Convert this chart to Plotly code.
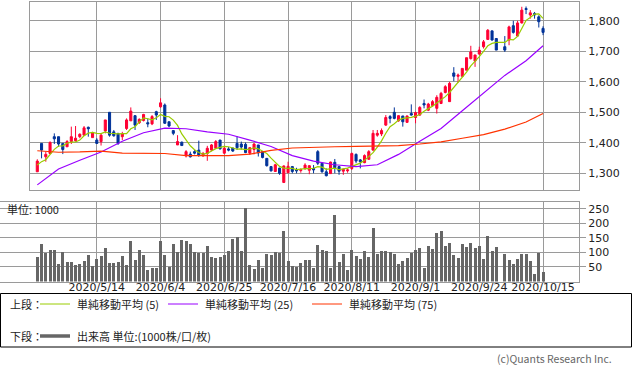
import plotly.graph_objects as go
import pandas as pd

# ---------------- data ----------------
tick_idx = [14, 29, 44, 59, 74, 89, 104, 119]
tick_labels = ["2020/5/14", "2020/6/4", "2020/6/25", "2020/7/16",
               "2020/8/11", "2020/9/1", "2020/9/24", "2020/10/15"]

opens = [1305, 1398, 1354, 1365, 1420, 1420, 1398, 1387, 1404, 1407,
         1420, 1425, 1451, 1417, 1409, 1404, 1439, 1500, 1436, 1431,
         1420, 1447, 1472, 1489, 1466, 1473, 1466, 1462, 1502, 1518,
         1524, 1469, 1440, 1393, 1402, 1357, 1363, 1371, 1376, 1357,
         1365, 1376, 1382, 1409, 1366, 1380, 1383, 1398, 1396, 1395,
         1366, 1378, 1393, 1371, 1349, 1322, 1306, 1317, 1270, 1302,
         1322, 1312, 1309, 1316, 1310, 1316, 1371, 1333, 1305, 1299,
         1336, 1322, 1307, 1308, 1316, 1362, 1344, 1335, 1346, 1376,
         1425, 1429, 1458, 1486, 1500, 1472, 1488, 1467, 1496, 1483,
         1491, 1529, 1507, 1522, 1513, 1529, 1565, 1535, 1629, 1618,
         1618, 1638, 1676, 1668, 1691, 1715, 1739, 1767, 1742, None,
         1715, 1737, 1784, 1750, 1793, 1840, 1819, 1824, 1813, 1775]
highs = [1346, 1398, 1371, 1405, 1431, 1420, 1398, 1409, 1453, 1455,
         1431, 1455, 1453, 1436, 1415, 1431, 1475, 1500, 1442, 1431,
         1436, 1480, 1516, 1491, 1480, 1495, 1480, 1491, 1505, 1546,
         1529, 1469, 1442, 1425, 1404, 1376, 1371, 1376, 1407, 1370,
         1390, 1396, 1409, 1409, 1390, 1386, 1383, 1422, 1404, 1401,
         1386, 1399, 1393, 1372, 1349, 1324, 1331, 1318, 1326, 1338,
         1324, 1318, 1316, 1333, 1327, 1327, 1376, 1336, 1316, 1338,
         1347, 1322, 1316, 1316, 1368, 1365, 1347, 1362, 1376, 1442,
         1442, 1447, 1491, 1491, 1516, 1491, 1488, 1489, 1526, 1502,
         1520, 1542, 1531, 1540, 1556, 1567, 1589, 1600, 1648, 1627,
         1644, 1679, 1718, 1688, 1715, 1737, 1773, 1767, 1742, None,
         1750, 1784, 1800, 1800, 1846, 1847, 1835, 1829, 1818, 1782]
lows = [1305, 1349, 1338, 1365, 1396, 1387, 1363, 1387, 1396, 1404,
        1415, 1425, 1420, 1417, 1396, 1391, 1431, 1420, 1420, 1393,
        1409, 1442, 1472, 1442, 1462, 1470, 1451, 1458, 1475, 1515,
        1462, 1451, 1425, 1393, 1391, 1352, 1352, 1362, 1354, 1355,
        1341, 1372, 1380, 1378, 1363, 1372, 1370, 1377, 1378, 1366,
        1360, 1362, 1355, 1349, 1322, 1306, 1305, 1295, 1268, 1300,
        1300, 1300, 1302, 1311, 1297, 1300, 1327, 1302, 1290, 1298,
        1300, 1295, 1295, 1302, 1311, 1333, 1316, 1333, 1344, 1374,
        1420, 1422, 1455, 1464, 1477, 1469, 1453, 1465, 1489, 1464,
        1488, 1513, 1504, 1518, 1496, 1527, 1562, 1535, 1602, 1597,
        1616, 1638, 1673, 1649, 1689, 1709, 1737, 1735, 1704, None,
        1698, 1720, 1758, 1748, 1791, 1822, 1807, 1807, 1778, 1753]
closes = [1340, 1376, 1362, 1401, 1413, 1396, 1378, 1404, 1420, 1415,
          1428, 1449, 1446, 1433, 1398, 1425, 1475, 1425, 1423, 1398,
          1429, 1475, 1504, 1458, 1477, 1493, 1462, 1486, 1491, 1531,
          1464, 1455, 1431, 1404, 1391, 1371, 1354, 1366, 1360, 1365,
          1382, 1393, 1404, 1380, 1382, 1376, 1373, 1384, 1386, 1368,
          1384, 1396, 1367, 1352, 1325, 1308, 1328, 1300, 1324, 1323,
          1306, 1308, 1312, 1327, 1325, 1311, 1333, 1305, 1292, 1337,
          1318, 1307, 1313, 1311, 1365, 1340, 1338, 1358, 1371, 1431,
          1431, 1440, 1483, 1480, 1480, 1489, 1469, 1488, 1491, 1499,
          1516, 1524, 1527, 1535, 1549, 1562, 1584, 1595, 1618, 1622,
          1644, 1679, 1698, 1688, 1704, 1731, 1769, 1737, 1704, None,
          1704, 1780, 1762, 1793, 1835, 1837, 1826, 1819, 1797, 1762]
pre_closes = [1320, 1330, 1315, 1330]   # closes before the window (for the 5-day MA)

volumes = [86, 132, 99, 111, 111, 61, 104, 68, 68, 57,
           61, 71, 93, 54, 79, 89, 118, 64, 64, 68,
           89, 57, 139, 75, 111, 93, 39, 46, 46, 139,
           93, 50, 129, 104, 143, 139, 132, 104, 99, 99,
           125, 86, 82, 86, 93, 107, 146, 154, 107, 255,
           57, 43, 75, 48, 96, 93, 104, 100, 175, 71,
           54, 50, 64, 74, 74, 49, 127, 109, 106, 49,
           229, 67, 95, 42, 109, 88, 78, 106, 85, 187,
           95, 106, 106, 102, 95, 60, 71, 81, 99, 109,
           116, 49, 124, 113, 169, 176, 124, 134, 92, 81,
           131, 120, 134, 116, 124, 78, 159, 106, 120, None,
           95, 74, 60, 78, 95, 95, 71, 28, 99, 35]

ma_idx = [0, 5, 10, 15, 20, 25, 30, 35, 40, 45, 50, 55, 60, 65, 70, 75,
          80, 85, 90, 95, 100, 105, 110, 115, 119]
ma25 = [1262, 1314, 1343, 1370, 1405, 1433, 1448, 1446, 1436, 1428, 1409,
        1388, 1358, 1340, 1328, 1322, 1328, 1362, 1405, 1447, 1505, 1564,
        1621, 1669, 1718]
ma75 = [1374, 1369, 1370, 1373, 1366, 1365, 1365, 1358, 1357, 1358, 1363,
        1375, 1383, 1386, 1387, 1388, 1389, 1391, 1396, 1403, 1415, 1427,
        1445, 1468, 1496]

# ---------------- derived ----------------
idx = list(range(len(closes)))
valid = [i for i in idx if closes[i] is not None]
cs = pd.Series(pre_closes + [closes[i] for i in valid])
ma5_vals = cs.rolling(5).mean().iloc[len(pre_closes):].tolist()

W, H = 633, 375
def px_x(p): return p / W
def px_y(p): return 1 - p / H

RED, BLUE = "#ff0033", "#003399"
C5, C25, C75 = "#99cc00", "#9900ff", "#ff3300"
GRID = "#9a9a9a"
TXT = "#222222"

fig = go.Figure()
fig.add_trace(go.Candlestick(
    x=valid,
    open=[opens[i] for i in valid], high=[highs[i] for i in valid],
    low=[lows[i] for i in valid], close=[closes[i] for i in valid],
    increasing=dict(line=dict(color=RED, width=1), fillcolor=RED),
    decreasing=dict(line=dict(color=BLUE, width=1), fillcolor=BLUE),
    whiskerwidth=0, xaxis="x", yaxis="y", showlegend=False, hoverinfo="skip"))
fig.add_trace(go.Scatter(x=valid, y=ma5_vals, mode="lines",
                         line=dict(color=C5, width=1.2), xaxis="x", yaxis="y",
                         showlegend=False, hoverinfo="skip"))
fig.add_trace(go.Scatter(x=ma_idx, y=ma25, mode="lines",
                         line=dict(color=C25, width=1.2), xaxis="x", yaxis="y",
                         showlegend=False, hoverinfo="skip"))
fig.add_trace(go.Scatter(x=ma_idx, y=ma75, mode="lines",
                         line=dict(color=C75, width=1.2), xaxis="x", yaxis="y",
                         showlegend=False, hoverinfo="skip"))
fig.add_trace(go.Bar(x=valid, y=[volumes[i] for i in valid], width=0.72,
                     marker=dict(color="#666666", line=dict(width=0)),
                     xaxis="x2", yaxis="y2", showlegend=False, hoverinfo="skip"))

x_right = (579 - 37.3) / 4.25
axis_common = dict(showgrid=True, gridcolor=GRID, gridwidth=1, zeroline=False,
                   showline=True, linecolor=GRID, linewidth=1, mirror=True,
                   fixedrange=True, automargin=False)
fig.update_layout(
    width=W, height=H, margin=dict(l=0, r=0, t=0, b=0, pad=0), autosize=False,
    paper_bgcolor="white", plot_bgcolor="white",
    font=dict(family="DejaVu Sans", size=11, color=TXT),
    xaxis=dict(domain=[px_x(30), px_x(579)], range=[(30 - 37.3) / 4.25, x_right],
               tickvals=tick_idx, showticklabels=False, ticks="",
               rangeslider=dict(visible=False), anchor="y", **axis_common),
    yaxis=dict(domain=[px_y(190), px_y(2)],
               range=[1800 - (190 - 20.8) / 0.305, 1800 - (2 - 20.8) / 0.305],
               tickvals=[1300, 1400, 1500, 1600, 1700, 1800], tickformat=",d",
               side="right", ticks="outside", ticklen=6, tickcolor=GRID,
               anchor="x", **axis_common),
    xaxis2=dict(domain=[0, px_x(579)], range=[(0 - 37.3) / 4.25, x_right],
                tickvals=tick_idx, ticktext=tick_labels, ticks="",
                ticklabelstandoff=-5,
                anchor="y2", **axis_common),
    yaxis2=dict(domain=[px_y(281.5), px_y(201.7)], range=[0, 275],
                tickvals=[50, 100, 150, 200, 250], side="right",
                ticks="outside", ticklen=6, tickcolor=GRID,
                anchor="x2", **axis_common),
    bargap=0,
)

JP = "Noto Sans CJK JP"
ann = []
ann.append(dict(x=px_x(5), y=px_y(209), xref="paper", yref="paper", text="単位: 1000",
                showarrow=False, xanchor="left", yanchor="middle",
                font=dict(family=JP, size=11, color=TXT)))
shapes = [dict(type="rect", xref="paper", yref="paper", x0=px_x(0.5), x1=px_x(631.5),
               y0=px_y(347), y1=px_y(293.5), line=dict(color="#000000", width=1))]
row1, row2 = 304, 336
ann.append(dict(x=px_x(8), y=px_y(row1), xref="paper", yref="paper", text="上段：",
                showarrow=False, xanchor="left", yanchor="middle",
                font=dict(family=JP, size=11, color=TXT)))
ann.append(dict(x=px_x(8), y=px_y(row2), xref="paper", yref="paper", text="下段：",
                showarrow=False, xanchor="left", yanchor="middle",
                font=dict(family=JP, size=11, color=TXT)))
for x0, col, label in [(40, C5, "単純移動平均 (5)"), (168, C25, "単純移動平均 (25)"),
                       (312, C75, "単純移動平均 (75)")]:
    shapes.append(dict(type="line", xref="paper", yref="paper", x0=px_x(x0), x1=px_x(x0 + 30),
                       y0=px_y(row1), y1=px_y(row1), line=dict(color=col, width=1)))
    ann.append(dict(x=px_x(x0 + 35), y=px_y(row1), xref="paper", yref="paper", text=label,
                    showarrow=False, xanchor="left", yanchor="middle",
                    font=dict(family=JP, size=11, color=TXT)))
shapes.append(dict(type="line", xref="paper", yref="paper", x0=px_x(40), x1=px_x(70),
                   y0=px_y(row2), y1=px_y(row2), line=dict(color="#666666", width=3.5)))
ann.append(dict(x=px_x(75), y=px_y(row2), xref="paper", yref="paper",
                text="出来高 単位:(1000株/口/枚)", showarrow=False, xanchor="left",
                yanchor="middle", font=dict(family=JP, size=11, color=TXT)))
ann.append(dict(x=px_x(614), y=px_y(358), xref="paper", yref="paper",
                text="(c)Quants Research Inc.", showarrow=False, xanchor="right",
                yanchor="middle", font=dict(family=JP, size=10.5, color="#666666")))
fig.update_layout(annotations=ann, shapes=shapes)

fig.write_html("out.html", config={"responsive": False, "displayModeBar": False},
               post_script="document.body.style.margin='0';"
                           "document.body.style.overflow='hidden';")
